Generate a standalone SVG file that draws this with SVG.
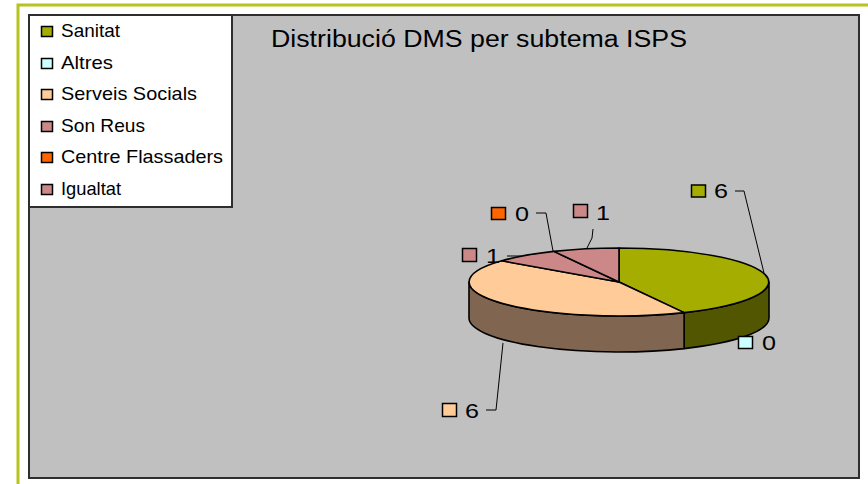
<svg xmlns="http://www.w3.org/2000/svg" width="868" height="484" viewBox="0 0 868 484">
<style>
text{font-family:"Liberation Sans",Arial,sans-serif;fill:#000}
.lg{font-size:19px}
.lb{font-size:21px}
.sq{stroke:#000;stroke-width:1.5}
.pie{stroke:#000;stroke-width:1.6;stroke-linejoin:round}
.ld{fill:none;stroke:#000;stroke-width:1}
</style>
<rect width="868" height="484" fill="#fff"/>
<path d="M18,484 V5 H868" fill="none" stroke="#b5c41e" stroke-width="3"/>
<rect id="plot" x="29" y="15" width="830" height="463" fill="#c0c0c0" stroke="#2e2e2e" stroke-width="2"/>
<text id="title" x="271" y="47" font-size="23" textLength="416" lengthAdjust="spacingAndGlyphs">Distribució DMS per subtema ISPS</text>
<g id="legend">
<rect x="29" y="15" width="203" height="192" fill="#fff" stroke="#2e2e2e" stroke-width="2"/>
<rect class="sq" x="41.5" y="26.5" width="11" height="10" fill="#a4ad00"/>
<text class="lg" x="61" y="37" textLength="59" lengthAdjust="spacingAndGlyphs">Sanitat</text>
<rect class="sq" x="41.5" y="58.5" width="11" height="10" fill="#ccffff"/>
<text class="lg" x="61" y="69" textLength="52" lengthAdjust="spacingAndGlyphs">Altres</text>
<rect class="sq" x="41.5" y="89.5" width="11" height="10" fill="#ffcc99"/>
<text class="lg" x="61" y="100" textLength="136" lengthAdjust="spacingAndGlyphs">Serveis Socials</text>
<rect class="sq" x="41.5" y="121.5" width="11" height="10" fill="#cc8888"/>
<text class="lg" x="61" y="132" textLength="84" lengthAdjust="spacingAndGlyphs">Son Reus</text>
<rect class="sq" x="41.5" y="152.5" width="11" height="10" fill="#ff6600"/>
<text class="lg" x="61" y="163" textLength="162" lengthAdjust="spacingAndGlyphs">Centre Flassaders</text>
<rect class="sq" x="41.5" y="184.5" width="11" height="10" fill="#cc8888"/>
<text class="lg" x="61" y="195" textLength="60" lengthAdjust="spacingAndGlyphs">Igualtat</text>
</g>
<g id="connectors">
<path class="ld" d="M735,191 H744 L764,273"/>
<path class="ld" d="M536,213 H546 L553,251"/>
<path class="ld" d="M593,229 L592,238 L586,250"/>
<path class="ld" d="M507,256 H525"/>
<path class="ld" d="M486,410 H496 L503,343"/>
</g>
<g id="pie">
<path class="pie" fill="#525600" d="M769,282 A150,34 0 0 1 684.1,312.6 L684.1,348.6 A150,34 0 0 0 769,318 Z"/>
<path class="pie" fill="#806650" d="M684.1,312.6 A150,34 0 0 1 469,282 L469,318 A150,34 0 0 0 684.1,348.6 Z"/>
<path class="pie" fill="#a4ad00" d="M619,282 L619,248 A150,34 0 0 1 684.1,312.6 Z"/>
<path class="pie" fill="#ffcc99" d="M619,282 L684.1,312.6 A150,34 0 0 1 501.7,260.8 Z"/>
<path class="pie" fill="#cc8888" d="M619,282 L501.7,260.8 A150,34 0 0 1 553.9,251.4 Z"/>
<path class="pie" fill="#cc8888" d="M619,282 L553.9,251.4 A150,34 0 0 1 619,248 Z"/>
</g>
<g id="label-sanitat">
<rect class="sq" x="691.5" y="185" width="14" height="12" fill="#a4ad00"/>
<text class="lb" x="714" y="198" textLength="14" lengthAdjust="spacingAndGlyphs">6</text>
</g>
<g id="label-altres">
<rect class="sq" x="738.5" y="336.5" width="14" height="12" fill="#ccffff"/>
<text class="lb" x="762" y="350" textLength="14" lengthAdjust="spacingAndGlyphs">0</text>
</g>
<g id="label-serveis">
<rect class="sq" x="442.5" y="403.5" width="14" height="13" fill="#ffcc99"/>
<text class="lb" x="465" y="418" textLength="14" lengthAdjust="spacingAndGlyphs">6</text>
</g>
<g id="label-sonreus">
<rect class="sq" x="462.5" y="248.5" width="14" height="13" fill="#cc8888"/>
<text class="lb" x="486" y="263" textLength="14" lengthAdjust="spacingAndGlyphs">1</text>
</g>
<g id="label-centre">
<rect class="sq" x="491.5" y="207.5" width="14" height="12" fill="#ff6600"/>
<text class="lb" x="515" y="221" textLength="14" lengthAdjust="spacingAndGlyphs">0</text>
</g>
<g id="label-igualtat">
<rect class="sq" x="573.5" y="204.5" width="14" height="13" fill="#cc8888"/>
<text class="lb" x="596" y="220" textLength="14" lengthAdjust="spacingAndGlyphs">1</text>
</g>
</svg>
